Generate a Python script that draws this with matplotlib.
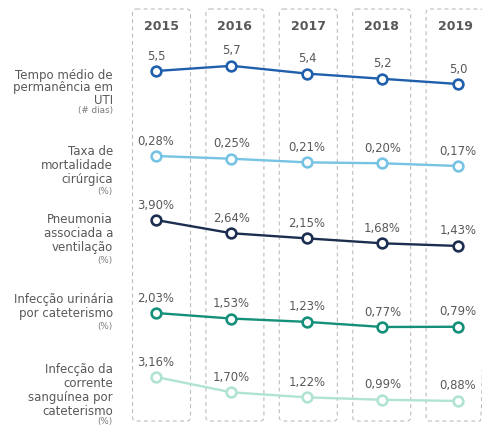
import matplotlib
matplotlib.use("Agg")
import matplotlib.pyplot as plt
from matplotlib.patches import FancyBboxPatch

# ---- data ----
years = ["2015", "2016", "2017", "2018", "2019"]

tempo_uti = [5.5, 5.7, 5.4, 5.2, 5.0]
mortalidade = [0.28, 0.25, 0.21, 0.20, 0.17]
pneumonia = [3.90, 2.64, 2.15, 1.68, 1.43]
infec_urinaria = [2.03, 1.53, 1.23, 0.77, 0.79]
infec_corrente = [3.16, 1.70, 1.22, 0.99, 0.88]

tempo_labels = ["5,5", "5,7", "5,4", "5,2", "5,0"]
mortalidade_labels = ["0,28%", "0,25%", "0,21%", "0,20%", "0,17%"]
pneumonia_labels = ["3,90%", "2,64%", "2,15%", "1,68%", "1,43%"]
urinaria_labels = ["2,03%", "1,53%", "1,23%", "0,77%", "0,79%"]
corrente_labels = ["3,16%", "1,70%", "1,22%", "0,99%", "0,88%"]

row_titles = [
    ["Tempo médio de", "permanência em", "UTI"],
    ["Taxa de", "mortalidade", "cirúrgica"],
    ["Pneumonia", "associada a", "ventilação"],
    ["Infecção urinária", "por cateterismo"],
    ["Infecção da", "corrente", "sanguínea por", "cateterismo"],
]
row_units = ["(# dias)", "(%)", "(%)", "(%)", "(%)"]

# ---- layout ----
W, H = 482, 427
fig = plt.figure(figsize=(W / 100, H / 100), dpi=100)
fig.patch.set_facecolor("white")

TEXT = "#585858"
XLIM = (-2.066, 4.318)

rows = [
    # values, labels, color, (top px, bottom px), ylim, title first-line y, line step, unit gap
    (tempo_uti, tempo_labels, "#1f5fab", (40, 100), (4.423, 6.731), 76, 12, 10.5),
    (mortalidade, mortalidade_labels, "#76c3e3", (140, 180), (0.027, 0.467), 152, 13.8, 12.3),
    (pneumonia, pneumonia_labels, "#1b2e4f", (205, 265), (-0.29, 5.424), 220, 14, 12.5),
    (infec_urinaria, urinaria_labels, "#14907a", (295, 345), (-0.763, 3.742), 300, 14, 12.5),
    (infec_corrente, corrente_labels, "#b0e4d1", (360, 415), (-0.364, 4.874), 370, 14, 10),
]

# background layer in pixel units: dashed year columns
bg = fig.add_axes([0, 0, 1, 1], zorder=0)
bg.set_xlim(0, W)
bg.set_ylim(H, 0)
bg.axis("off")

col_x0, col_step, col_w = 161.5, 73.4, 58
for i, yr in enumerate(years):
    cx = col_x0 + i * col_step
    box = FancyBboxPatch((cx - col_w / 2, 10), col_w, 412,
                         boxstyle="round,pad=0,rounding_size=4",
                         fc="none", ec="#bcbcbc", lw=0.8,
                         ls=(0, (3.5, 3)), clip_on=False)
    bg.add_patch(box)
    bg.text(cx, 27, yr, ha="center", va="center", fontsize=9,
            fontweight="bold", color=TEXT)

x = list(range(len(years)))
for idx, (vals, labels, color, (top, bottom), ylim, ty, step, ugap) in enumerate(rows):
    ax = fig.add_axes([0, 1 - bottom / H, 1, (bottom - top) / H], zorder=1)
    ax.set_facecolor("none")
    ax.set_xlim(*XLIM)
    ax.set_ylim(*ylim)
    ax.axis("off")
    ax.plot(x, vals, color=color, lw=1.7, marker="o", markersize=7,
            markerfacecolor="white", markeredgecolor=color,
            markeredgewidth=1.9, clip_on=False)
    for xi, v, lab in zip(x, vals, labels):
        ax.annotate(lab, (xi, v), xytext=(0, 11.5), textcoords="offset points",
                    ha="center", va="center", fontsize=8.4, color=TEXT)

    # row title on the left, with its unit below
    lines = row_titles[idx]
    for k, line in enumerate(lines):
        bg.text(113, ty + k * step, line, ha="right", va="center",
                fontsize=8.5, color=TEXT)
    bg.text(113, ty + (len(lines) - 1) * step + ugap, row_units[idx], ha="right",
            va="center", fontsize=6.3, color="#7a7a7a")

fig.savefig("out.png", dpi=100, facecolor="white")
